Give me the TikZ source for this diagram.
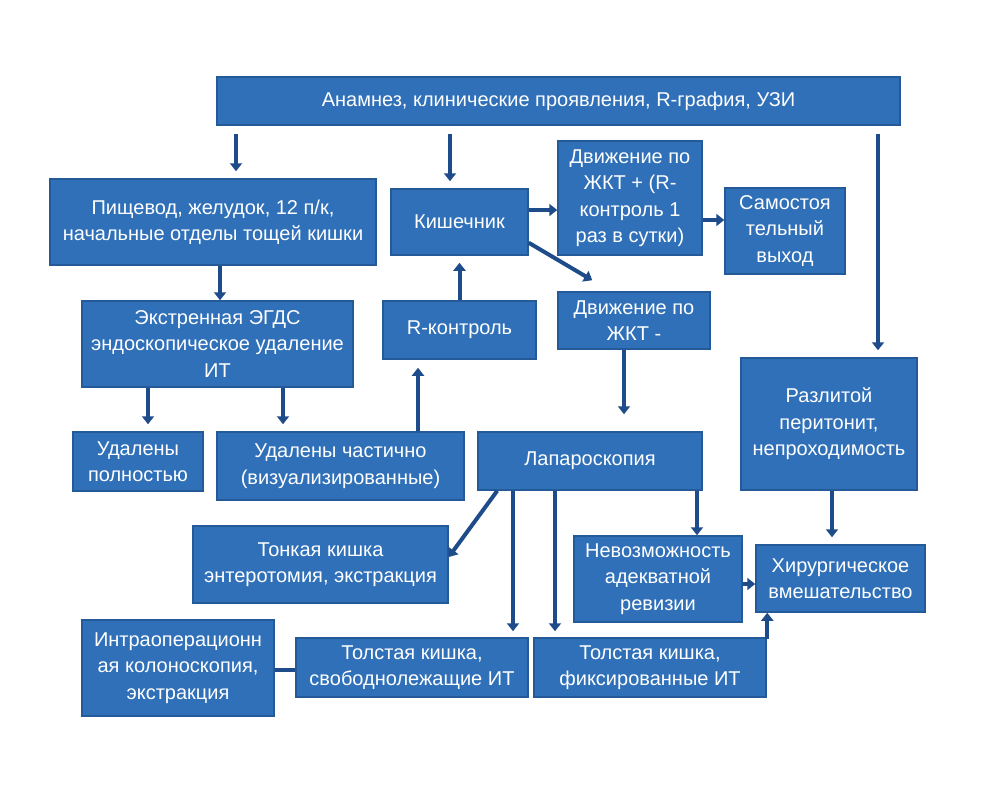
\documentclass[tikz,border=0pt]{standalone}
\usepackage{fontspec}
\setmainfont{Liberation Sans}
\usetikzlibrary{arrows.meta}
\definecolor{bxf}{RGB}{47,112,184}
\definecolor{bxd}{RGB}{36,90,152}
\definecolor{arb}{RGB}{30,76,138}

\begin{document}
\begin{tikzpicture}[
            x=1pt, y=-1pt,
            box/.style={draw=bxd, line width=1.5pt, fill=bxf, text=white, align=center,
                inner sep=1pt, font=\fontsize{20}{26.5}\selectfont},
            arr/.style={arb, line width=4pt, -{Triangle[length=8pt,width=12pt]}},
            gap/.style={shorten <=8pt, shorten >=7pt}
        ]
            \useasboundingbox (0,0) rectangle (983,790);

            \node[box, minimum width=683pt, minimum height=48pt] (top) at (558.5,101)
                {Анамнез, клинические проявления, R-графия, УЗИ};
            \node[box, minimum width=326pt, minimum height=86pt] (pish) at (213,222)
                {Пищевод, желудок, 12 п/к,\\начальные отделы тощей кишки};
            \node[box, minimum width=137pt, minimum height=66pt] (kish) at (459.5,222) {Кишечник};
            \node[box, minimum width=144pt, minimum height=114pt] (dvplus) at (630,198)
                {Движение по\\ЖКТ + (R-\\контроль 1\\раз в сутки)};
            \node[box, minimum width=120pt, minimum height=86pt] (samo) at (785,231)
                {Самостоя\\тельный\\выход};
            \node[box, minimum width=152pt, minimum height=57pt] (dvminus) at (634,320.5)
                {Движение по\\ЖКТ -};
            \node[box, minimum width=153pt, minimum height=58pt] (rkon) at (459.5,330) {R-контроль};
            \node[box, minimum width=271pt, minimum height=86pt] (egds) at (217.5,344)
                {Экстренная ЭГДС\\эндоскопическое удаление\\ИТ};
            \node[box, minimum width=176pt, minimum height=132pt] (razl) at (829,424)
                {Разлитой\\перитонит,\\непроходимость};
            \node[box, minimum width=130pt, minimum height=59pt] (udp) at (138,461.5)
                {Удалены\\полностью};
            \node[box, minimum width=247pt, minimum height=68pt] (udch) at (340.5,466)
                {Удалены частично\\(визуализированные)};
            \node[box, minimum width=224pt, minimum height=58pt] (lap) at (590,461) {Лапароскопия};
            \node[box, minimum width=255pt, minimum height=77pt] (ton) at (320.5,564.5)
                {Тонкая кишка\\энтеротомия, экстракция};
            \node[box, minimum width=168pt, minimum height=86pt] (nevoz) at (658,579)
                {Невозможность\\адекватной\\ревизии};
            \node[box, minimum width=169pt, minimum height=67pt] (hir) at (840.5,578.5)
                {Хирургическое\\вмешательство};
            \node[box, minimum width=192pt, minimum height=96pt] (intra) at (178,668)
                {Интраоперационн\\ая колоноскопия,\\экстракция};
            \node[box, minimum width=232pt, minimum height=59pt] (tsvob) at (412,667.5)
                {Толстая кишка,\\свободнолежащие ИТ};
            \node[box, minimum width=232pt, minimum height=59pt] (tfix) at (650,667.5)
                {Толстая кишка,\\фиксированные ИТ};

            \draw[arr, gap] ([xshift=-322.5pt]top.south) -- ([xshift=23pt]pish.north);
            \draw[arr, gap] ([xshift=-108.5pt]top.south) -- ([xshift=-9.5pt]kish.north);
            \draw[arr, gap] ([xshift=319.5pt]top.south) -- ([xshift=49pt]razl.north);
            \draw[arr] ([xshift=7pt]pish.south) -- ([xshift=2.5pt]egds.north);
            \draw[arr, shorten >=7pt] ([xshift=-69.5pt]egds.south) -- ([xshift=10pt]udp.north);
            \draw[arr, shorten >=7pt] ([xshift=65.5pt]egds.south) -- ([xshift=-57.5pt]udch.north);
            \draw[arr, shorten >=8pt] ([xshift=77.5pt]udch.north) -- ([xshift=-41.5pt]rkon.south);
            \draw[arr, shorten >=7pt] (rkon.north) -- (kish.south);
            \draw[arr] ([yshift=12pt]kish.east) -- ([yshift=-12pt]dvplus.west);
            \draw[arr] ([yshift=-22pt]dvplus.east) -- ([yshift=11pt]samo.west);
            \draw[arr] ([yshift=13pt]kish.south east) -- ([xshift=35pt,yshift=11pt]dvminus.north west);
            \draw[arr, shorten >=17pt] ([xshift=-10pt]dvminus.south) -- ([xshift=34pt]lap.north);
            \draw[arr] ([xshift=20pt]lap.south west) -- ([yshift=7.5pt]ton.east);
            \draw[arr, shorten >=6pt] ([xshift=-77pt]lap.south) -- ([xshift=101pt]tsvob.north);
            \draw[arr, shorten >=6pt] ([xshift=-35pt]lap.south) -- ([xshift=-95pt]tfix.north);
            \draw[arr] ([xshift=107pt]lap.south) -- ([xshift=39pt]nevoz.north);
            \draw[arr, shorten >=7pt] ([xshift=3pt]razl.south) -- ([xshift=-8.5pt]hir.north);
            \draw[arr] ([yshift=-5pt]nevoz.east) -- ([yshift=-5.5pt]hir.west);
            \draw[arr] ([xshift=-2pt]tfix.north east) -| ([xshift=12pt]hir.south west);
            \draw[arb, line width=4pt] ([yshift=-2pt]intra.east) -- ([yshift=-2.5pt]tsvob.west);
        \end{tikzpicture}
\end{document}
